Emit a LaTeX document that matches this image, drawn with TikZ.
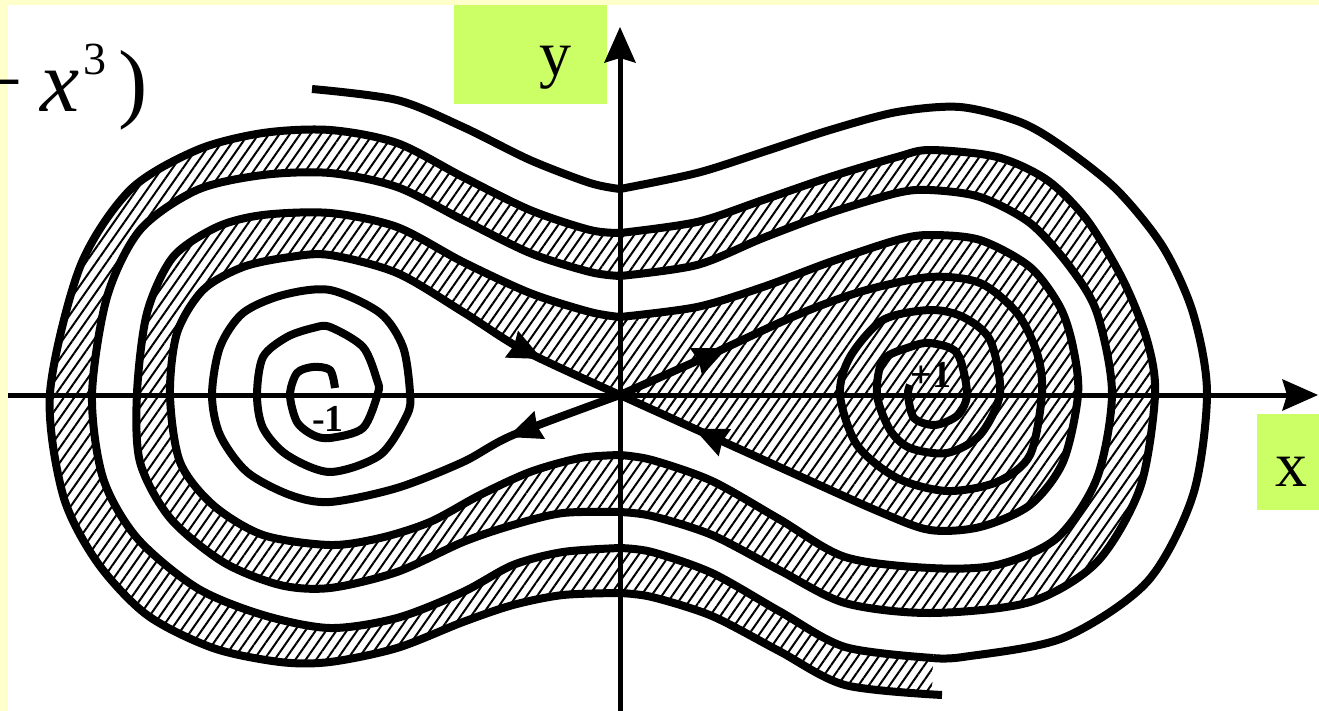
\documentclass[tikz,border=0pt]{standalone}
\usepackage{fontspec}
\setmainfont{Liberation Serif}
\usetikzlibrary{arrows.meta,patterns.meta}
\definecolor{SlideYellow}{HTML}{FFFFCC}
\definecolor{TagGreen}{HTML}{CCFF66}

% stable branch from lower right, traced outwards from the saddle
\newcommand{\stableB}{%
  plot[smooth] coordinates {(620,395) (715,438) (797,475) (880,512) (930,530) (980,527) (1030,505) (1063,462) (1078,395) (1073,347) (1060,307) (1030,267) (980,240) (930,235) (897,240) (830,262) (763,287) (697,307) (620,317)}
  -- plot[smooth] coordinates {(620,317) (590,312) (530,293) (463,262) (397,227) (330,213) (263,215) (217,227) (173,257) (147,313) (137,393) (140,462) (170,518) (223,562) (280,585) (330,588) (397,572) (463,542) (513,525) (563,513) (620,512)}
  -- plot[smooth] coordinates {(620,512) (652,516) (712,535) (779,570) (845,603) (930,613) (1030,602) (1097,562) (1140,488) (1155,395) (1147,340) (1123,280) (1087,220) (1047,180) (997,157) (930,150) (897,157) (830,177) (763,200) (697,222) (620,233)}
  -- plot[smooth] coordinates {(620,233) (590,230) (530,210) (463,177) (397,143) (330,130) (263,133) (197,150) (130,190) (80,267) (50,393) (63,495) (97,562) (147,615) (213,648) (280,662) (330,662) (397,648) (463,622) (513,605) (563,595) (620,593)}
  -- plot[smooth] coordinates {(620,593) (652,597) (712,616) (779,651) (845,685) (942,695)}}
% stable branch from upper left: outer part, then inner part into the saddle
\newcommand{\stableAout}{%
  plot[smooth] coordinates {(312,89) (397,100) (463,127) (530,160) (590,183) (620,189)}
  -- plot[smooth] coordinates {(620,189) (697,173) (763,152) (830,130) (897,112) (960,107) (1020,122) (1063,147) (1117,190) (1163,247) (1193,313) (1207,393) (1193,495) (1147,582) (1063,638) (963,657) (933,658)}}
\newcommand{\stableAin}{%
  -- plot[smooth] coordinates {(933,658) (845,647) (779,611) (712,573) (652,552) (620,548)}
  -- plot[smooth] coordinates {(620,548) (563,552) (513,565) (463,592) (397,618) (330,628) (263,615) (197,588) (137,538) (103,478) (92,395) (107,297) (140,230) (197,190) (263,175) (330,173) (397,187) (463,220) (530,253) (590,272) (620,276)}
  -- plot[smooth] coordinates {(620,276) (697,265) (763,238) (830,213) (897,193) (930,190) (980,197) (1030,223) (1070,267) (1097,313) (1112,393) (1097,478) (1057,538) (997,565) (930,568) (845,557) (779,519) (712,481) (652,460) (620,455)}
  -- plot[smooth] coordinates {(620,455) (580,458) (530,472) (480,495) (430,522) (380,538) (330,545) (263,535) (213,505) (180,462) (170,395) (177,333) (203,290) (243,267) (290,257) (330,255) (397,273) (463,312) (525,351) (620,395)}}
% unstable branches, spiralling into the foci
\newcommand{\unstR}{%
  plot[smooth] coordinates {(620,395) (710,355) (797,315) (863,291) (930,277) (980,283) (1017,313) (1037,353) (1042,393) (1030,455) (997,482) (947,491) (897,478) (857,445) (840,395) (850,357) (883,320) (930,310) (963,317) (990,340) (1000,393) (980,435) (947,453) (910,448) (890,430) (877,395) (883,360) (910,347) (930,343) (957,353) (967,393) (958,415) (935,425) (914,418) (908,395) (910,385)}}
\newcommand{\unstL}{%
  plot[smooth] coordinates {(620,395) (513,435) (463,462) (397,488) (330,502) (290,495) (247,472) (220,435) (212,395) (220,347) (243,313) (283,295) (330,290) (380,313) (403,347) (410,393) (407,415) (380,455) (330,472) (287,455) (263,428) (257,395) (263,357) (287,337) (313,328) (330,327) (363,347) (377,380) (378,393) (363,428) (330,438) (313,435) (297,422) (290,395) (297,373) (313,367) (330,370) (335,388)}}

\begin{document}
\begin{tikzpicture}[x=1pt,y=-1pt,>={Stealth[length=36pt,width=32pt,inset=5pt,line width=0pt]}]
  \tikzstyle{orbit}=[line width=8pt,line join=round]
  \tikzstyle{hatch}=[pattern={Lines[angle=55,distance=8.5pt,line width=2pt]},pattern color=black]
  \tikzstyle{coordaxis}=[line width=5pt,->]
  \tikzstyle{flowtip}=[line width=1pt,-{Stealth[length=34pt,width=30pt,inset=3pt,line width=0pt]}]
  \tikzstyle{axlabel}=[inner sep=0pt,anchor=base,font=\fontsize{64}{64}\selectfont]
  \tikzstyle{ptlabel}=[inner sep=0pt,anchor=base,font=\fontsize{38}{38}\selectfont\bfseries]
  \useasboundingbox (0,0) rectangle (1319,711);
  \clip (0,0) rectangle (1319,711);
  \fill[SlideYellow] (0,0) rectangle (1319,711);
  \fill[white] (8,5) rectangle (1319,711);
  \fill[TagGreen] (454,5) rectangle (607,104);
  \fill[TagGreen] (1257,414) rectangle (1319,510);
  % basin of +1
  \fill[hatch] \stableB -- (932,694) \stableAin -- cycle;
  \draw[orbit] \stableB;
  \draw[orbit] \stableAout;
  \draw[orbit] (933,658) \stableAin;
  \draw[orbit] \unstR;
  \draw[orbit] \unstL;
  % axes
  \coordinate (O) at (620,395);
  \coordinate (xl) at (8,395);
  \coordinate (xr) at (1318,395);
  \coordinate (yb) at (620,711);
  \coordinate (yt) at (620,27);
  \draw[coordaxis] (xl) -- (xr);
  \draw[coordaxis] (yb) -- (yt);
  % flow direction near the saddle
  \coordinate (sa1) at (505,341);
  \coordinate (sa2) at (542,359);
  \coordinate (ur1) at (690,364.5);
  \coordinate (ur2) at (727,348);
  \coordinate (ul1) at (545,423);
  \coordinate (ul2) at (508,437);
  \coordinate (sb1) at (730,445);
  \coordinate (sb2) at (694,428.6);
  \draw[flowtip] (sa1) -- (sa2);
  \draw[flowtip] (ur1) -- (ur2);
  \draw[flowtip] (ul1) -- (ul2);
  \draw[flowtip] (sb1) -- (sb2);
  % labels
  \node[axlabel] (ylab) at (555,76) {y};
  \node[axlabel] (xlab) at (1291,486) {x};
  \node[ptlabel] (leftfocus) at (328,431) {-1};
  \node[ptlabel] (rightfocus) at (931,387) {+1};
  \node[anchor=base east,inner sep=0pt,font=\fontsize{88}{88}\selectfont] (eqtail) at (148,112)
    {−\hspace{17pt}\textit{x}\hspace{4pt}\raisebox{37pt}{\fontsize{46}{46}\selectfont 3}\hspace{12pt})};
\end{tikzpicture}
\end{document}
